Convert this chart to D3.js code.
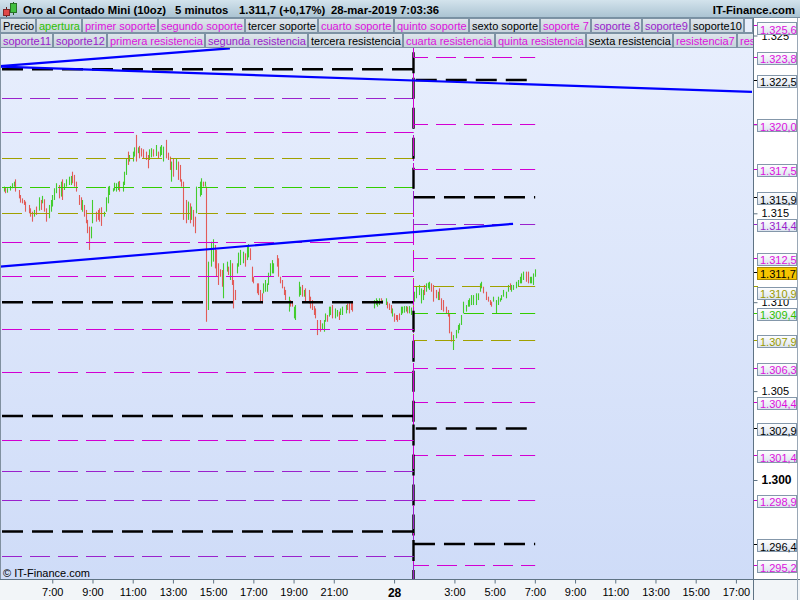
<!DOCTYPE html>
<html><head><meta charset="utf-8">
<script src="https://cdn.jsdelivr.net/npm/d3@7"></script>
<style>
html,body{margin:0;padding:0;background:#fff;}
svg{display:block;font-family:"Liberation Sans",Arial,Helvetica,sans-serif;}
</style></head><body>
<svg id="chart" width="800" height="600"></svg>
<script>
// ---------------- DATA ----------------
// header
const titleParts = ["Oro al Contado Mini (10oz)", "5 minutos", "1.311,7 (+0,17%)", "28-mar-2019 7:03:36"];
const brandText = "IT-Finance.com";
const copyrightText = "\u00A9 IT-Finance.com";
const lastPrice = 1311.7;

// legend
const legendRow1 = ["Precio","apertura","primer soporte","segundo soporte","tercer soporte","cuarto soporte","quinto soporte","sexto soporte","soporte 7","soporte 8","soporte9","soporte10"];
const legendRow2 = ["soporte11","soporte12","primera resistencia","segunda resistencia","tercera resistencia","cuarta resistencia","quinta resistencia","sexta resistencia","resistencia7","resistencia8"];

// time axis (minutes after 27-mar-2019 00:00)
const tickMinutes = [420,540,660,780,900,1020,1140,1260,1440,1620,1740,1860,1980,2100,2220,2340,2460];
const tickLabels = ["7:00","9:00","11:00","13:00","15:00","17:00","19:00","21:00","28","3:00","5:00","7:00","9:00","11:00","13:00","15:00","17:00"];
const priceTicks = [1300,1305,1310,1315,1320,1325];

// 5-minute bars (minute of bar, high, low, rising=1 / falling=0)
const barMinute = [
 275,280,285,295,300,305,310,320,325,330,
 335,340,350,355,360,365,370,380,385,390,
 395,400,410,415,420,425,430,440,445,450,
 455,460,470,475,480,485,490,500,505,510,
 515,520,525,530,535,540,550,555,560,565,
 575,580,585,590,600,605,610,615,620,630,
 635,640,645,650,660,665,670,675,680,685,
 690,700,705,710,715,720,730,735,740,745,
 750,760,765,770,775,780,790,795,800,805,
 810,820,825,830,835,840,845,850,860,865,
 870,875,880,885,895,900,905,910,915,920,
 925,930,940,945,950,955,960,965,970,975,
 980,990,995,1000,1005,1010,1015,1020,1030,1035,
 1040,1045,1050,1055,1060,1065,1070,1075,1080,1090,
 1095,1100,1105,1110,1115,1125,1130,1135,1140,1145,
 1155,1160,1165,1170,1175,1185,1190,1195,1200,1205,
 1210,1220,1225,1230,1235,1240,1245,1250,1255,1265,
 1270,1275,1280,1285,1295,1300,1305,1310,1315,
 1380,1385,1390,1395,1400,1405,1415,1420,1425,1430,
 1435,1440,1445,1450,1455,1460,1465,1470,1475,1480,
 1485,1490,1495,
 1500,1505,1515,1520,1525,1530,1535,1540,1545,1550,
 1555,1565,1570,1575,1580,1585,1595,1600,1605,1610,
 1615,1625,1630,1635,1640,1645,1655,1660,1665,1670,
 1675,1685,1690,1695,1700,1705,1715,1720,1725,1730,
 1735,1745,1750,1755,1760,1765,1775,1780,1785,1790,
 1795,1805,1810,1815,1820,1825,1835,1840,1845,1850,
 1855,1860];
const barHigh = [
 1316.50,1316.44,1316.41,1316.54,1316.69,1316.78,1316.91,1316.31,1316.03,1315.84,
 1315.75,1315.66,1315.47,1315.28,1315.09,1315.19,1315.38,1315.90,1315.75,1315.98,
 1315.79,1315.28,1315.47,1315.75,1316.03,1316.41,1316.69,1316.59,1316.78,1316.91,
 1316.69,1316.91,1317.06,1317.10,1317.34,1317.16,1316.78,1316.03,1315.90,1315.75,
 1315.47,1315.19,1314.63,1314.25,1314.25,1315.75,1315.09,1315.19,1315.28,1315.34,
 1315.09,1315.90,1316.50,1316.54,1316.41,1316.72,1316.69,1316.78,1316.82,1316.78,
 1317.34,1318.09,1318.47,1318.28,1318.47,1318.71,1319.41,1318.71,1318.79,1318.66,
 1318.60,1318.47,1318.28,1318.60,1318.66,1318.60,1318.84,1318.47,1318.75,1318.84,
 1318.75,1319.13,1318.41,1318.19,1317.91,1318.09,1318.09,1317.91,1317.72,1316.91,
 1316.78,1315.75,1315.66,1315.56,1315.38,1315.19,1314.81,1316.50,1316.78,1316.97,
 1316.78,1316.78,1316.50,1312.28,1313.40,1313.54,1313.22,1312.94,1312.19,1311.85,
 1311.81,1312.19,1312.28,1312.00,1312.37,1312.19,1311.25,1310.69,1312.19,1312.79,
 1312.94,1312.84,1312.75,1313.22,1313.27,1313.03,1312.00,1311.43,1311.06,1311.06,
 1310.69,1310.50,1311.06,1311.25,1311.06,1311.66,1312.19,1312.37,1312.19,1312.65,
 1312.47,1311.43,1311.25,1310.87,1310.69,1310.31,1310.12,1310.03,1309.75,1309.84,
 1311.15,1310.87,1310.97,1310.69,1310.78,1310.69,1310.31,1310.12,1309.78,1309.65,
 1309.00,1309.00,1308.81,1309.00,1309.37,1309.28,1309.75,1309.75,1309.84,1309.65,
 1309.56,1309.47,1309.65,1309.75,1309.84,1309.93,1310.03,1310.03,1310.03,
 1310.12,1310.22,1310.12,1310.22,1310.22,1310.12,1310.22,1310.03,1309.93,1309.84,
 1309.65,1309.37,1309.28,1309.28,1309.37,1309.75,1309.75,1309.78,1309.78,1309.75,
 1309.78,1309.70,1310.03,
 1310.59,1310.87,1310.97,1310.78,1310.69,1310.97,1311.06,1311.10,1311.15,1311.06,
 1310.97,1310.69,1310.59,1310.78,1310.22,1310.12,1309.75,1309.56,1309.37,1308.34,
 1308.15,1308.44,1308.72,1308.81,1309.28,1310.03,1309.84,1310.12,1310.22,1310.40,
 1310.40,1310.50,1310.50,1311.06,1311.15,1310.87,1310.59,1310.31,1310.12,1310.03,
 1310.31,1310.12,1310.31,1310.22,1310.40,1310.69,1310.59,1310.97,1311.06,1310.97,
 1310.97,1311.15,1311.25,1311.43,1311.62,1311.72,1311.72,1311.72,1311.43,1311.43,
 1311.62,1311.85];
const barLow = [
 1316.22,1316.13,1316.16,1316.28,1316.41,1316.50,1316.22,1315.84,1315.60,1315.56,
 1315.47,1315.09,1315.00,1314.81,1314.53,1314.81,1314.91,1315.15,1315.19,1315.56,
 1315.09,1314.53,1314.72,1315.09,1315.38,1315.75,1316.13,1315.84,1315.94,1315.75,
 1316.31,1316.50,1316.59,1316.59,1316.69,1316.50,1316.22,1315.47,1315.19,1315.09,
 1314.81,1314.44,1313.88,1312.94,1313.59,1314.44,1314.53,1314.63,1314.53,1314.29,
 1314.81,1315.09,1315.56,1316.03,1316.22,1316.28,1316.22,1316.31,1316.22,1316.22,
 1316.59,1317.16,1317.72,1317.91,1317.91,1318.19,1317.91,1318.38,1318.09,1318.19,
 1318.09,1318.00,1317.53,1318.00,1318.15,1318.19,1318.22,1318.09,1318.19,1318.28,
 1317.91,1318.09,1318.00,1317.44,1316.78,1317.06,1317.44,1316.88,1316.78,1316.50,
 1314.63,1314.44,1314.63,1314.44,1314.63,1314.25,1313.88,1315.00,1315.94,1316.03,
 1316.50,1316.50,1308.90,1309.56,1312.00,1312.28,1311.90,1311.43,1310.97,1311.43,
 1310.87,1310.22,1311.72,1311.53,1311.25,1310.97,1309.65,1310.12,1311.62,1312.00,
 1312.09,1312.19,1312.00,1312.37,1312.52,1312.37,1311.15,1311.06,1310.50,1310.40,
 1310.03,1309.93,1310.50,1310.59,1310.59,1310.97,1311.43,1311.62,1311.62,1312.00,
 1311.43,1311.06,1310.78,1310.40,1310.12,1309.47,1309.75,1309.75,1309.09,1309.00,
 1310.31,1310.40,1310.31,1310.31,1310.03,1309.93,1309.65,1309.56,1309.28,1309.09,
 1308.15,1308.34,1308.44,1308.34,1308.90,1308.90,1309.19,1309.28,1309.09,1309.09,
 1309.19,1309.00,1309.28,1309.28,1309.37,1309.56,1309.37,1309.56,1309.47,
 1309.65,1309.84,1309.75,1309.84,1309.93,1309.93,1309.84,1309.65,1309.56,1309.37,
 1309.19,1308.90,1309.00,1308.90,1309.00,1309.28,1309.37,1309.41,1309.47,1309.37,
 1309.37,1309.28,1309.56,
 1310.03,1310.22,1310.40,1309.93,1310.12,1310.40,1310.59,1310.78,1310.69,1310.59,
 1310.03,1310.22,1310.12,1310.12,1309.56,1309.47,1309.37,1309.19,1308.25,1307.78,
 1307.31,1307.97,1308.25,1308.44,1308.72,1309.37,1309.47,1309.75,1309.75,1309.84,
 1309.84,1309.84,1310.12,1310.59,1310.78,1310.50,1310.12,1310.03,1309.84,1309.75,
 1310.03,1309.37,1309.84,1310.03,1310.12,1310.31,1310.22,1310.59,1310.69,1310.59,
 1310.69,1310.78,1310.87,1311.06,1311.06,1311.25,1311.15,1311.06,1311.06,1311.06,
 1310.97,1311.43];
const barUp = [
 1,0,1,1,1,1,0,0,0,0,
 0,0,0,0,0,1,0,1,0,1,
 0,0,1,1,1,1,1,0,1,0,
 1,1,1,1,0,0,0,0,0,1,
 0,0,0,0,1,1,0,0,0,0,
 1,1,1,1,1,1,1,1,0,1,
 1,1,0,1,1,1,0,1,0,0,
 0,0,0,1,1,0,1,0,1,1,
 1,0,0,0,1,0,1,0,0,0,
 0,0,1,0,1,0,0,1,1,1,
 0,1,0,1,1,1,0,0,0,0,
 0,1,1,0,1,0,0,0,1,1,
 1,1,0,1,1,0,0,0,0,0,
 0,0,1,1,1,1,1,1,1,0,
 0,0,0,0,0,1,0,0,1,1,
 1,1,0,1,0,0,0,0,0,0,
 0,0,1,1,1,0,1,1,0,1,
 1,0,1,1,1,0,0,0,0,
 1,1,1,1,0,1,1,0,0,0,
 1,0,0,0,0,1,1,1,1,0,
 1,1,0,
 1,1,1,1,1,0,1,1,1,0,
 0,0,1,0,0,0,0,0,0,0,
 1,1,1,1,1,1,1,1,1,1,
 1,1,1,1,1,0,0,0,0,0,
 1,1,1,1,1,1,1,1,0,1,
 1,1,1,1,1,1,0,0,1,1,
 1,1];

// pivot levels: previous session value and current session value
const levelNames = ["apertura","máximo","mínimo",
 "primera resistencia","segunda resistencia","tercera resistencia","cuarta resistencia","quinta resistencia","sexta resistencia","resistencia7","resistencia8",
 "primer soporte","segundo soporte","tercer soporte","cuarto soporte","quinto soporte","sexto soporte","soporte 7","soporte 8","soporte9","soporte10","soporte11","soporte12"];
const levelPrev = [1316.5,1318.1,1315.0,
 1319.6,1321.5,1323.1,1324.6,1327.1,1329.6,1330.9,1332.7,
 1313.4,1311.5,1310.0,1308.5,1306.1,1303.6,1302.25,1300.5,1298.9,1297.1,1295.7,1294.1];
const levelToday = [1309.4,1310.9,1307.9,
 1312.5,1314.4,1315.9,1317.5,1320.0,1322.5,1323.8,1325.6,
 1306.3,1304.4,1302.9,1301.4,1298.9,1296.4,1295.2,1293.4,1291.8,1290.0,1288.6,1287.0];
const levelStartMinute = 264, sessionChangeMinute = 1497.5, levelEndMinute = 1861;

// trend lines (start minute/price, end minute/price)
const trendT0 = [264, 264, 264];
const trendP0 = [1312.00, 1323.28, 1323.25];
const trendT1 = [1795, 950, 2508];
const trendP1 = [1314.41, 1324.28, 1321.83];

// ---------------- STYLES ----------------
const C = {mag:"#d200d2", pur:"#9a22cc", blk:"#000000", grn:"#33cc00", olv:"#a0a000"};
const black = new Set(["Precio","tercer soporte","sexto soporte","soporte10","tercera resistencia","sexta resistencia"]);
const purple = new Set(["soporte 8","soporte9","soporte11","soporte12","segunda resistencia"]);
function colorOf(n){
  if (n==="apertura") return C.grn;
  if (n==="máximo"||n==="mínimo") return C.olv;
  if (black.has(n)) return C.blk;
  if (purple.has(n)) return C.pur;
  return C.mag;
}
function legendColorOf(n){
  if (n==="apertura") return "#2fbf00";
  if (black.has(n)) return "#000";
  if (purple.has(n)) return "#9a22cc";
  return "#dd11dd";
}

// ---------------- CHART ----------------
const svg = d3.select("#chart");
const PL=0, PR=753, PT=48, PB=579;
const T0 = Date.UTC(2019,2,27);
const toDate = m => new Date(T0 + m*60000);
const x = d3.scaleUtc().domain([toDate(264), toDate(2511)]).range([PL, PR]);
const y = d3.scaleLinear().domain([1300,1320]).range([480,124.4]);
const fmtLoc = d3.formatLocale({decimal:",", thousands:".", grouping:[3], currency:["","€"]});
const fmt1 = fmtLoc.format(",.1f"), fmt0 = fmtLoc.format(",.0f");

const defs = svg.append("defs");
function vgrad(id, stops){
  const g = defs.append("linearGradient").attr("id",id).attr("x1",0).attr("y1",0).attr("x2",0).attr("y2",1);
  stops.forEach(s=>g.append("stop").attr("offset",s[0]).attr("stop-color",s[1]));
}
vgrad("plotBg", [[0,"#e7eefd"],[1,"#cfdcf8"]]);
vgrad("hdrBg", [[0,"#d3e3ec"],[1,"#a9c2d1"]]);
vgrad("boxBg", [[0,"#ffffff"],[1,"#dbe3ee"]]);
vgrad("legBg", [[0,"#dfe6ec"],[1,"#c5d1db"]]);
defs.append("clipPath").attr("id","plotClip").append("rect").attr("x",PL).attr("y",PT).attr("width",PR-PL).attr("height",PB-PT);
defs.append("clipPath").attr("id","legClip").append("rect").attr("x",0).attr("y",18).attr("width",PR).attr("height",30);

// backgrounds
svg.append("rect").attr("width",800).attr("height",600).attr("fill","#ffffff");
svg.append("rect").attr("x",0).attr("y",0).attr("width",800).attr("height",18).attr("fill","url(#hdrBg)");
svg.append("rect").attr("x",0).attr("y",18).attr("width",PR).attr("height",30).attr("fill","#e8eefb");
svg.append("rect").attr("x",PL).attr("y",PT).attr("width",PR-PL).attr("height",PB-PT).attr("fill","url(#plotBg)");
svg.append("rect").attr("x",0).attr("y",PB).attr("width",800).attr("height",600-PB).attr("fill","#f2f5f8");
svg.append("line").attr("x1",0).attr("x2",800).attr("y1",17.5).attr("y2",17.5).attr("stroke","#7890a2");

// plot contents
const plot = svg.append("g").attr("clip-path","url(#plotClip)");

// bars
plot.append("g").selectAll("line").data(d3.range(barMinute.length)).join("line")
  .attr("x1", i => Math.round(x(toDate(barMinute[i]))) + 0.5)
  .attr("x2", i => Math.round(x(toDate(barMinute[i]))) + 0.5)
  .attr("y1", i => y(barHigh[i]))
  .attr("y2", i => Math.max(y(barLow[i]), y(barHigh[i]) + 1.5))
  .attr("stroke", i => barUp[i] ? "#43cc2e" : "#e25b58")
  .attr("stroke-width", 1.1);

// levels (step lines)
const stepLine = d3.line().x(d => d[0]).y(d => d[1]);
levelNames.forEach((n,i) => {
  const thick = colorOf(n) === C.blk;
  const xs = Math.round(x(toDate(sessionChangeMinute))) + 0.5;
  const yp = thick ? y(levelPrev[i]) : Math.round(y(levelPrev[i])) + 0.5;
  const yt = thick ? y(levelToday[i]) : Math.round(y(levelToday[i])) + 0.5;
  const pts = [[x(toDate(levelStartMinute)), yp],[xs, yp],[xs, yt],[x(toDate(levelEndMinute)), yt]];
  plot.append("path").attr("d", stepLine(pts)).attr("fill","none")
    .attr("stroke", colorOf(n))
    .attr("stroke-width", thick ? 2.4 : 1)
    .attr("stroke-dasharray", thick ? "21,9" : "20,8")
    .attr("stroke-dashoffset", -2);
});

// trend lines
plot.append("g").selectAll("line").data(d3.range(trendT0.length)).join("line")
  .attr("x1", i => x(toDate(trendT0[i]))).attr("y1", i => y(trendP0[i]))
  .attr("x2", i => x(toDate(trendT1[i]))).attr("y2", i => y(trendP1[i]))
  .attr("stroke","#0000ff").attr("stroke-width",2.2);

// copyright
svg.append("text").attr("x",3).attr("y",577).attr("font-size",11).attr("fill","#000").text(copyrightText);

// plot borders
svg.append("line").attr("x1",0.5).attr("x2",0.5).attr("y1",PT).attr("y2",PB).attr("stroke","#8090a0");
svg.append("line").attr("x1",0).attr("x2",800).attr("y1",PB+0.5).attr("y2",PB+0.5).attr("stroke","#5f7384");
svg.append("line").attr("x1",PR+0.5).attr("x2",PR+0.5).attr("y1",18).attr("y2",600).attr("stroke","#5f7384");
svg.append("line").attr("x1",797.5).attr("x2",797.5).attr("y1",18).attr("y2",600).attr("stroke","#9aa8b6");

// bottom axis
const xAxis = d3.axisBottom(x).tickValues(tickMinutes.map(toDate)).tickSize(4).tickFormat((d,i)=>tickLabels[i]);
const xg = svg.append("g").attr("transform",`translate(0,${PB+0.5})`).call(xAxis);
xg.select(".domain").remove();
xg.selectAll(".tick line").attr("stroke","#5f7384");
xg.selectAll(".tick text").attr("font-family","Liberation Sans, Arial, sans-serif")
  .attr("fill","#000").attr("y",8).attr("dy","0.75em")
  .attr("font-weight",(d,i)=>tickLabels[i]==="28"?"bold":null)
  .attr("font-size",(d,i)=>tickLabels[i]==="28"?12:11);

// right axis plain ticks (the label of 1.320 lies fully under its level box)
const yAxis = d3.axisRight(y).tickValues(priceTicks).tickSize(4).tickFormat(d => d===1320 ? "" : fmt0(d));
const yg = svg.append("g").attr("transform",`translate(${PR+0.5},0)`).call(yAxis);
yg.select(".domain").remove();
yg.selectAll(".tick line").attr("stroke","#5f7384");
yg.selectAll(".tick text").attr("x",8).attr("fill","#000").attr("font-family","Liberation Sans, Arial, sans-serif")
  .attr("font-size",d=>d===1300?12:11).attr("font-weight",d=>d===1300?"bold":null);

// right axis value labels
let labels = levelNames.map((n,i)=>({v:levelToday[i], name:n, cur:false}))
  .concat([{v:lastPrice, name:"Precio", cur:true}])
  .filter(d => y(d.v) >= 18 && y(d.v) <= PB)
  .sort((a,b)=>y(a.v)-y(b.v));
let prev = null;
labels.forEach(d => {
  let c = Math.max(y(d.v) + 1.5, 28.5);
  if (prev) { const gap = prev.cur ? 20 : 14; if (c < prev.c + gap) c = prev.c + gap; }
  d.c = c; prev = d;
});
const lg = svg.append("g");
labels.forEach(d => {
  const col = d.cur ? "#000" : (colorOf(d.name)===C.mag ? "#dd11dd" : colorOf(d.name)===C.olv ? "#9a9a00" : colorOf(d.name)===C.grn ? "#2fbf00" : colorOf(d.name));
  const ty = Math.round(y(d.v)) + 0.5;
  lg.append("line").attr("x1",PR+1).attr("x2",PR+5).attr("y1",ty).attr("y2",ty).attr("stroke", d.cur ? "#000" : colorOf(d.name));
  lg.append("rect").attr("x",757.5).attr("y",Math.round(d.c-6.5)+0.5).attr("width",39).attr("height",12)
    .attr("fill", d.cur ? "#f6c400" : "url(#boxBg)").attr("stroke", d.cur ? "#a88600" : "#8497aa");
  lg.append("text").attr("x",760).attr("y",Math.round(d.c)+4.5).attr("font-size",11).attr("fill",col).text(fmt1(d.v));
});

// header
const hdr = svg.append("g");
hdr.append("line").attr("x1",6.5).attr("x2",6.5).attr("y1",7).attr("y2",17).attr("stroke","#602020");
hdr.append("rect").attr("x",3.5).attr("y",9.5).attr("width",6).attr("height",6).attr("fill","#e04848").attr("stroke","#802828");
hdr.append("line").attr("x1",13.5).attr("x2",13.5).attr("y1",2).attr("y2",15).attr("stroke","#206020");
hdr.append("rect").attr("x",10.5).attr("y",3.5).attr("width",6).attr("height",9).attr("fill","#40c040").attr("stroke","#287028");
const titleX = [23, 175, 239, 331];
titleParts.forEach((t,i)=>hdr.append("text").attr("x",titleX[i]).attr("y",14).attr("font-size",11.3).attr("font-weight","bold").attr("fill","#000").text(t));
hdr.append("text").attr("x",795).attr("y",14).attr("text-anchor","end").attr("font-size",11.3).attr("font-weight","bold").attr("fill","#000").text(brandText);

// legend
const leg = svg.append("g").attr("clip-path","url(#legClip)");
function legendRow(items, y0, fillRest){
  let cx = 0.5;
  items.forEach(n => {
    const g = leg.append("g");
    const r = g.append("rect").attr("x",cx).attr("y",y0+0.5).attr("height",14).attr("fill","url(#legBg)").attr("stroke","#7d92a4");
    const t = g.append("text").attr("x",cx+2.5).attr("y",y0+12).attr("font-size",11).attr("fill",legendColorOf(n)).text(n);
    const w = Math.round(t.node().getComputedTextLength() + 4.3);
    r.attr("width", w);
    cx += w + 1;
  });
  if (fillRest && cx < PR) leg.append("rect").attr("x",cx).attr("y",y0+0.5).attr("width",PR-cx-0.5).attr("height",14).attr("fill","#e8eefb").attr("stroke","#7d92a4");
}
legendRow(legendRow1, 18, true);
legendRow(legendRow2, 33, false);
</script>
</body></html>
